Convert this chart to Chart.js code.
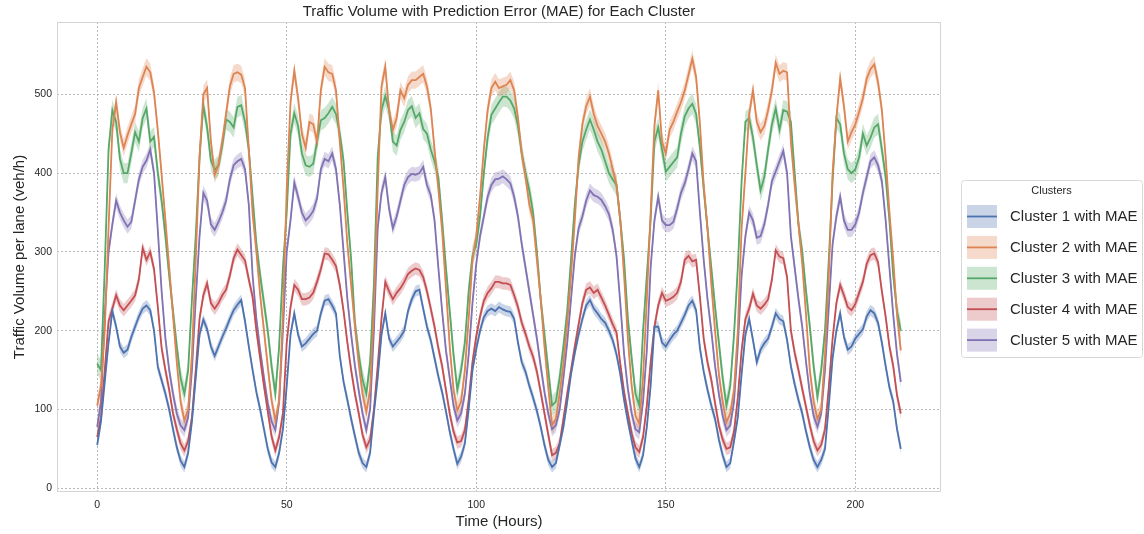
<!DOCTYPE html>
<html>
<head>
<meta charset="utf-8">
<title>Traffic Volume with Prediction Error (MAE)</title>
<script src="https://cdn.jsdelivr.net/npm/chart.js@4.4.1/dist/chart.umd.min.js"></script>
<style>
    html, body { margin: 0; padding: 0; background: #ffffff; }
    #wrap { width: 1144px; height: 534px; }
</style>
</head>
<body>
<div id="wrap"><canvas id="traffic-chart" width="1144" height="534"></canvas></div>
<script>
// Hourly mean traffic volume per lane (veh/h), one value per hour 0..212
const CLUSTER_1 = [
    55, 85, 135, 185, 225, 205, 180, 172, 176, 192, 205, 218, 228, 232, 226, 200, 154, 137, 120, 100, 75, 52, 35, 27,
    45, 85, 140, 195, 214, 202, 180, 168, 180, 192, 203, 215, 226, 233, 239, 212, 180, 150, 122, 100, 75, 50, 33, 27,
    45, 75, 130, 195, 222, 195, 180, 184, 190, 196, 200, 222, 238, 240, 232, 222, 168, 135, 112, 88, 66, 45, 32, 27,
    45, 95, 140, 195, 222, 190, 180, 186, 192, 200, 225, 240, 250, 252, 228, 205, 188, 165, 142, 122, 98, 72, 50, 31,
    40, 57, 100, 150, 177, 200, 217, 225, 228, 225, 230, 227, 225, 224, 215, 185, 160, 148, 130, 115, 98, 78, 55, 36, 27,
    32, 55, 78, 110, 145, 172, 195, 215, 232, 239, 228, 222, 215, 210, 200, 188, 170, 145, 112, 85, 61, 38, 27,
    42, 78, 130, 205, 205, 185, 180, 188, 195, 200, 210, 220, 232, 238, 226, 178, 148, 125, 105, 88, 62, 42, 27,
    32, 60, 90, 145, 195, 215, 188, 160, 176, 184, 190, 205, 222, 215, 212, 188, 155, 132, 112, 95, 72, 52, 36, 27,
    36, 50, 105, 165, 200, 222, 192, 176, 180, 190, 196, 202, 218, 226, 222, 210, 185, 155, 128, 110, 75, 50
];
const CLUSTER_2 = [
    105, 130, 200, 330, 455, 490, 452, 432, 448, 462, 475, 508, 522, 535, 528, 502, 454, 398, 340, 280, 220, 160, 110, 86,
    100, 170, 290, 420, 500, 508, 440, 398, 410, 440, 475, 510, 526, 528, 525, 508, 430, 349, 300, 245, 200, 155, 112, 86,
    110, 220, 380, 490, 530, 495, 450, 432, 465, 462, 440, 505, 535, 528, 526, 505, 440, 380, 310, 258, 205, 158, 120, 97,
    125, 230, 380, 510, 535, 480, 455, 470, 505, 495, 512, 518, 518, 522, 526, 510, 482, 430, 380, 327, 255, 180, 125, 99,
    110, 150, 215, 290, 320, 370, 430, 480, 508, 516, 508, 510, 512, 518, 505, 470, 425, 395, 360, 340, 290, 240, 180, 128, 80,
    88, 120, 158, 210, 270, 340, 420, 462, 485, 497, 475, 460, 450, 440, 425, 405, 385, 340, 270, 190, 130, 92, 82,
    140, 240, 350, 460, 505, 440, 425, 455, 465, 478, 490, 505, 525, 545, 522, 463, 385, 330, 260, 200, 145, 110, 84,
    95, 125, 200, 330, 400, 475, 505, 465, 452, 460, 480, 505, 540, 526, 530, 528, 440, 385, 335, 285, 220, 150, 110, 88,
    100, 170, 270, 400, 470, 520, 485, 440, 452, 462, 478, 495, 520, 532, 538, 515, 480, 420, 350, 290, 220, 175
];
const CLUSTER_3 = [
    158, 150, 280, 430, 480, 465, 418, 400, 400, 425, 452, 440, 470, 482, 440, 446, 400, 365, 320, 270, 225, 180, 140, 120,
    150, 240, 320, 420, 486, 458, 416, 404, 410, 435, 468, 465, 458, 484, 486, 465, 430, 370, 310, 270, 235, 200, 155, 120,
    180, 280, 350, 450, 476, 460, 425, 410, 408, 412, 440, 467, 470, 476, 484, 475, 450, 415, 350, 290, 210, 170, 138, 120,
    160, 260, 420, 480, 498, 480, 440, 435, 455, 465, 480, 485, 470, 476, 456, 450, 430, 415, 395, 340, 280, 225, 170, 125,
    150, 185, 250, 295, 310, 345, 400, 445, 474, 482, 490, 497, 497, 492, 482, 460, 425, 400, 378, 350, 300, 240, 195, 150, 105,
    110, 140, 180, 225, 290, 360, 410, 440, 455, 468, 455, 440, 430, 415, 400, 392, 385, 340, 290, 215, 165, 120, 105,
    200, 270, 340, 440, 458, 430, 402, 408, 414, 420, 450, 472, 482, 488, 475, 433, 380, 330, 280, 230, 185, 140, 105,
    130, 195, 280, 390, 465, 470, 445, 410, 378, 395, 430, 462, 482, 455, 480, 478, 465, 400, 335, 300, 250, 205, 155, 116,
    150, 200, 290, 390, 470, 462, 425, 405, 400, 405, 420, 450, 435, 445, 458, 462, 430, 395, 340, 270, 225, 200
];
const CLUSTER_4 = [
    65, 90, 150, 212, 228, 245, 232, 226, 232, 238, 245, 265, 305, 290, 300, 278, 230, 178, 150, 125, 95, 75, 57, 48,
    60, 90, 150, 215, 245, 260, 235, 228, 235, 245, 252, 270, 292, 303, 296, 289, 265, 243, 200, 165, 130, 98, 66, 48,
    65, 95, 185, 230, 258, 252, 240, 240, 242, 248, 262, 278, 298, 297, 290, 282, 258, 225, 185, 150, 120, 95, 68, 52,
    62, 100, 155, 215, 262, 250, 240, 248, 254, 262, 272, 276, 279, 277, 268, 250, 228, 205, 178, 155, 125, 95, 72, 58,
    60, 74, 112, 160, 193, 218, 238, 248, 254, 262, 262, 260, 260, 258, 245, 230, 210, 196, 180, 167, 148, 122, 95, 68, 42,
    45, 57, 88, 120, 150, 180, 208, 235, 252, 255, 248, 252, 242, 232, 220, 208, 198, 158, 122, 95, 70, 52, 46,
    65, 105, 160, 205, 232, 248, 238, 240, 243, 248, 262, 290, 295, 288, 290, 243, 190, 160, 138, 108, 80, 62, 50,
    52, 72, 115, 175, 215, 228, 247, 232, 228, 233, 240, 265, 302, 294, 292, 268, 200, 172, 150, 126, 103, 80, 60, 48,
    55, 75, 128, 190, 235, 258, 245, 230, 226, 234, 248, 262, 285, 296, 298, 287, 250, 218, 180, 155, 118, 95
];
const CLUSTER_5 = [
    78, 110, 220, 300, 335, 365, 350, 340, 332, 338, 365, 392, 408, 416, 430, 400, 327, 250, 190, 150, 120, 95, 80, 74,
    90, 150, 240, 320, 375, 365, 335, 328, 338, 350, 365, 392, 410, 415, 418, 405, 360, 270, 215, 175, 140, 108, 85, 74,
    110, 200, 300, 340, 388, 370, 350, 340, 345, 352, 368, 405, 418, 415, 425, 405, 360, 300, 240, 195, 155, 124, 95, 74,
    100, 200, 330, 375, 395, 355, 330, 345, 365, 385, 395, 399, 398, 400, 408, 385, 372, 340, 280, 225, 175, 140, 105, 86,
    95, 120, 170, 235, 285, 320, 345, 370, 385, 392, 393, 396, 392, 387, 370, 345, 310, 280, 250, 220, 190, 155, 122, 95, 75,
    80, 100, 140, 185, 240, 295, 330, 345, 365, 378, 372, 370, 366, 358, 348, 328, 295, 235, 170, 126, 95, 75, 71,
    110, 175, 280, 340, 370, 340, 334, 334, 338, 355, 375, 387, 405, 425, 415, 350, 290, 240, 200, 155, 120, 92, 74,
    80, 110, 180, 270, 320, 350, 340, 318, 320, 335, 360, 390, 402, 415, 428, 400, 320, 280, 240, 205, 160, 120, 92, 78,
    95, 150, 230, 310, 345, 370, 340, 328, 328, 335, 350, 375, 395, 415, 420, 410, 390, 340, 280, 220, 170, 135
];

// Mean absolute error of each cluster's prediction (half width of the band)
const MAE = [7, 11, 13, 8, 9];

const CLUSTER_NAMES = [
    'Cluster 1 with MAE', 'Cluster 2 with MAE', 'Cluster 3 with MAE',
    'Cluster 4 with MAE', 'Cluster 5 with MAE'
];
const X_TICKS = [0, 50, 100, 150, 200];
const Y_TICKS = [0, 100, 200, 300, 400, 500];

// Hour index of every sample
const HOURS = Array.from({ length: CLUSTER_1.length }, (_, i) => i);

// Styling
const COLORS = ['#4c72b0', '#dd8452', '#55a868', '#c44e52', '#8172b3'];
const FONT = '"Liberation Sans", Arial, sans-serif';
const TEXT_COLOR = '#262626';
const GRID_COLOR = '#a8a8a8';

function rgba(hex, a) {
    const n = parseInt(hex.slice(1), 16);
    return 'rgba(' + (n >> 16) + ',' + ((n >> 8) & 255) + ',' + (n & 255) + ',' + a + ')';
}

// Build band (lower/upper) and mean line datasets for every cluster
function buildDatasets() {
    const series = [CLUSTER_1, CLUSTER_2, CLUSTER_3, CLUSTER_4, CLUSTER_5];
    const sets = [];
    series.forEach((values, i) => {
        sets.push({
            data: values.map(v => v - MAE[i]),
            borderWidth: 0,
            pointRadius: 0,
            fill: false,
            order: 2
        });
        sets.push({
            data: values.map(v => v + MAE[i]),
            borderWidth: 0,
            pointRadius: 0,
            backgroundColor: rgba(COLORS[i], 0.3),
            fill: '-1',
            order: 2
        });
        sets.push({
            label: CLUSTER_NAMES[i],
            data: values,
            borderColor: COLORS[i],
            borderWidth: 1.8,
            pointRadius: 0,
            fill: false,
            order: 1
        });
    });
    return sets;
}

// Frame, title, axis titles and legend
const decorPlugin = {
    id: 'decor',
    beforeDatasetsDraw(chart) {
        const { ctx, chartArea: a } = chart;
        ctx.save();
        ctx.strokeStyle = '#d4d4d4';
        ctx.lineWidth = 1;
        ctx.strokeRect(a.left + 0.5, a.top + 0.5, a.right - a.left - 1, a.bottom - a.top - 1);
        ctx.restore();
    },
    afterDraw(chart) {
        const { ctx, chartArea: a } = chart;
        const cx = (a.left + a.right) / 2;
        ctx.save();
        ctx.fillStyle = TEXT_COLOR;
        ctx.textAlign = 'center';
        ctx.textBaseline = 'middle';

        ctx.font = '15px ' + FONT;
        ctx.fillText('Traffic Volume with Prediction Error (MAE) for Each Cluster', cx, 12);
        ctx.fillText('Time (Hours)', cx, 522);

        ctx.save();
        ctx.translate(20, (a.top + a.bottom) / 2);
        ctx.rotate(-Math.PI / 2);
        ctx.fillText('Traffic Volume per lane (veh/h)', 0, 0);
        ctx.restore();

        drawLegend(ctx);
        ctx.restore();
    }
};

function drawLegend(ctx) {
    const box = { x: 961, y: 180.5, w: 181, h: 177 };
    ctx.save();
    ctx.fillStyle = 'rgba(255,255,255,0.8)';
    ctx.strokeStyle = '#d8d8d8';
    ctx.lineWidth = 1;
    ctx.beginPath();
    ctx.roundRect(box.x + 0.5, box.y, box.w, box.h, 3);
    ctx.fill();
    ctx.stroke();

    ctx.fillStyle = TEXT_COLOR;
    ctx.font = '11px ' + FONT;
    ctx.textAlign = 'center';
    ctx.textBaseline = 'middle';
    ctx.fillText('Clusters', box.x + box.w / 2, 191);

    CLUSTER_NAMES.forEach((name, i) => {
        const cy = 216.5 + i * 30.9;
        ctx.fillStyle = rgba(COLORS[i], 0.3);
        ctx.fillRect(967, cy - 11.5, 30, 23);
        ctx.strokeStyle = COLORS[i];
        ctx.lineWidth = 1.8;
        ctx.beginPath();
        ctx.moveTo(967, cy);
        ctx.lineTo(997, cy);
        ctx.stroke();

        ctx.fillStyle = TEXT_COLOR;
        ctx.font = '15px ' + FONT;
        ctx.textAlign = 'left';
        ctx.fillText(name, 1010, cy + 0.5);
    });
    ctx.restore();
}

function renderChart() {
    const ctx = document.getElementById('traffic-chart');
    const tickFont = { family: FONT, size: 10.5 };

    new Chart(ctx, {
        type: 'line',
        data: {
            labels: HOURS,
            datasets: buildDatasets()
        },
        options: {
            responsive: false,
            animation: false,
            devicePixelRatio: 1,
            layout: { padding: { top: 22, right: 203, left: 0, bottom: 0 } },
            plugins: {
                legend: { display: false },
                title: { display: false },
                tooltip: { enabled: false }
            },
            elements: { line: { tension: 0 } },
            scales: {
                x: {
                    type: 'linear',
                    min: -10.6,
                    max: 222.6,
                    afterFit: s => { s.height = 42; },
                    afterBuildTicks: s => { s.ticks = X_TICKS.map(v => ({ value: v })); },
                    ticks: { font: tickFont, color: TEXT_COLOR, padding: 7, maxRotation: 0 },
                    grid: { color: GRID_COLOR, lineWidth: 0.8, drawTicks: false },
                    border: { display: false, dash: [2, 2] }
                },
                y: {
                    min: -4.7,
                    max: 591.8,
                    afterFit: s => { s.width = 57; },
                    afterBuildTicks: s => { s.ticks = Y_TICKS.map(v => ({ value: v })); },
                    ticks: { font: tickFont, color: TEXT_COLOR, padding: 5 },
                    grid: { color: GRID_COLOR, lineWidth: 0.8, drawTicks: false },
                    border: { display: false, dash: [2, 2] }
                }
            }
        },
        plugins: [decorPlugin]
    });
}

document.addEventListener('DOMContentLoaded', renderChart);
</script>
</body>
</html>
